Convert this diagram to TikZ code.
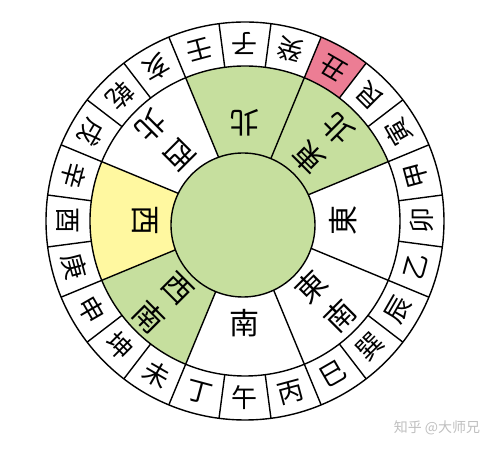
\documentclass[tikz,border=0pt]{standalone}
\usepackage{fontspec}
\newfontfamily\cjk{Noto Sans CJK TC}
\usetikzlibrary{positioning}
\definecolor{luopangreen}{RGB}{198,223,158}
\definecolor{luopanyellow}{RGB}{255,248,160}
\definecolor{luopanpink}{RGB}{236,125,148}

\begin{document}
\begin{tikzpicture}[x=1pt,y=1pt,line width=1.4pt,
  mount/.style={font=\cjk\fontsize{26}{26}\selectfont,inner sep=0pt},
  gua/.style={font=\cjk\fontsize{30}{41}\selectfont,inner sep=0pt,align=center}]
\useasboundingbox (-245,-228) rectangle (251,221);
% coloured sectors
\fill[luopangreen] (0,0) -- (67.5:155) arc[start angle=67.5,end angle=112.5,radius=155] -- cycle;
\fill[luopangreen] (0,0) -- (22.5:155) arc[start angle=22.5,end angle=67.5,radius=155] -- cycle;
\fill[luopanyellow] (0,0) -- (157.5:155) arc[start angle=157.5,end angle=202.5,radius=155] -- cycle;
\fill[luopangreen] (0,0) -- (202.5:155) arc[start angle=202.5,end angle=247.5,radius=155] -- cycle;
\fill[luopanpink] (52.5:155) -- (52.5:199) arc[start angle=52.5,end angle=67.5,radius=199] -- (67.5:155) arc[start angle=67.5,end angle=52.5,radius=155] -- cycle;
% rings
\draw (0,0) circle[radius=199];
\draw (0,0) circle[radius=155];
\foreach \k in {0,...,23}
  \draw ({7.5+15*\k}:155) -- ({7.5+15*\k}:199);
\foreach \k in {0,...,7}
  \draw (0,0) -- ({22.5+45*\k}:155);
\draw[fill=luopangreen] (-2,-4) circle[radius=72];
% 24 mountains
\foreach \name [count=\i from 0] in {子,癸,丑,艮,寅,甲,卯,乙,辰,巽,巳,丙,午,丁,未,坤,申,庚,酉,辛,戌,乾,亥,壬}
  \node[mount,rotate={180-15*\i}] (m\i) at ({90-15*\i}:177) {\name};
% eight directions
\node[gua,rotate=180] (north) at (90:98) {北};
\node[gua,rotate=135] (northeast) at (45:110) {東\\北};
\node[gua,rotate=90] (east) at (0:98) {東};
\node[gua,rotate=45] (southeast) at (-45:114) {東\\南};
\node[gua] (south) at (-90:102) {南};
\node[gua,rotate=-45] (southwest) at (-135:116) {西\\南};
\node[gua,rotate=-90] (west) at (180:100) {西};
\node[gua,rotate=225] (northwest) at (135:114) {西\\北};
% watermark
\node[font=\cjk\fontsize{14}{14}\selectfont,text=black!25,inner sep=0pt] (mark) at (192,-207) {知乎 @大师兄};
\end{tikzpicture}
\end{document}
